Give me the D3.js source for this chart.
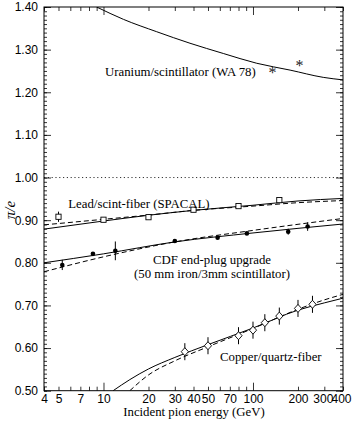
<!DOCTYPE html>
<html>
<head>
<meta charset="utf-8">
<script src="https://cdn.jsdelivr.net/npm/d3@7"></script>
<style>
  body { margin: 0; background: #fff; }
  svg { display: block; font-family: "Liberation Serif", "DejaVu Serif", serif; }
  .tick text { font-size: 12px; fill: #000; }
  .tick line { stroke: #000; stroke-width: 0.8; }
  .fit { fill: none; stroke: #000; stroke-width: 1; }
  .dash { stroke-dasharray: 5,3; }
</style>
</head>
<body>
<svg width="352" height="421"></svg>
<script>
// values, energy in GeV / pi-over-e ratio
const xTickLabels = [4, 5, 7, 10, 20, 30, 40, 50, 70, 100, 200, 300, 400];
const xMinorTicks = [4, 5, 6, 7, 8, 9, 20, 30, 40, 50, 60, 70, 80, 90, 200, 300, 400];
const xMajorTicks = [10, 100];
const yTickLabels = [0.50, 0.60, 0.70, 0.80, 0.90, 1.00, 1.10, 1.20, 1.30, 1.40];

const uraniumFit = [[9, 1.400], [13.6, 1.371], [22.7, 1.342], [37.9, 1.315], [63.3, 1.291], [106, 1.268], [177, 1.252], [295, 1.235], [400, 1.229]];
const uraniumPoints = [[135, 1.251], [205, 1.266]];

const spacalPoints = [[5, 0.908, 0.012], [10, 0.901, 0], [20, 0.907, 0], [40, 0.9245, 0], [80, 0.933, 0], [150, 0.947, 0]];
const spacalFitSolid = [[4, 0.879], [10, 0.898], [20, 0.9115], [40, 0.923], [100, 0.935], [200, 0.945], [400, 0.951]];
const spacalFitDashed = [[4, 0.889], [10, 0.902], [20, 0.912], [40, 0.923], [100, 0.933], [200, 0.941], [400, 0.946]];

const cdfPoints = [[5.3, 0.795, 0.012], [8.5, 0.821, 0], [12, 0.828, 0.022], [30, 0.851, 0], [58, 0.859, 0], [91, 0.869, 0], [172, 0.873, 0.007], [232, 0.885, 0.01]];
const cdfFitSolid = [[4, 0.800], [10, 0.821], [30, 0.849], [100, 0.870], [400, 0.891]];
const cdfFitDashed = [[4, 0.779], [10, 0.814], [30, 0.849], [100, 0.876], [400, 0.904]];

const copperPoints = [[35, 0.5915], [50, 0.6055], [80, 0.629], [100, 0.642], [120, 0.6595], [150, 0.675], [200, 0.693], [250, 0.7026]];
const copperErr = 0.02;
const copperFitSolid = [[11.6, 0.500], [15, 0.526], [20, 0.551], [30, 0.578], [50, 0.608], [100, 0.647], [200, 0.689], [300, 0.706], [400, 0.717]];
const copperFitDashed = [[15, 0.500], [20, 0.537], [30, 0.570], [50, 0.603], [100, 0.646], [200, 0.691], [300, 0.713], [400, 0.726]];

const svg = d3.select("svg");
const margin = { top: 7, right: 9, bottom: 30.3, left: 44 };
const width = 352 - margin.left - margin.right;
const height = 421 - margin.top - margin.bottom;
const g = svg.append("g").attr("transform", `translate(${margin.left},${margin.top})`);

const x = d3.scaleLog().domain([4, 400]).range([0, width]);
const y = d3.scaleLinear().domain([0.5, 1.4]).range([height, 0]);

const yMinor = d3.range(50, 141).map(d => d / 100);

// axes, ticks pointing inward
g.append("g").attr("transform", `translate(0,${height})`)
    .call(d3.axisBottom(x).tickValues(xMinorTicks).tickSize(-4).tickFormat(""))
    .call(a => a.select(".domain").remove());
g.append("g").attr("transform", `translate(0,${height})`)
    .call(d3.axisBottom(x).tickValues(xMajorTicks).tickSize(-8).tickFormat(""))
    .call(a => a.select(".domain").remove());
g.append("g").attr("transform", `translate(0,${height})`)
    .call(d3.axisBottom(x).tickValues(xTickLabels).tickSize(0).tickPadding(4).tickFormat(d3.format("d")))
    .call(a => a.select(".domain").remove())
    .call(a => a.selectAll(".tick text").filter(d => d === 300).attr("dx", -1.5))
    .call(a => a.selectAll(".tick text").filter(d => d === 400).attr("dx", -2));

g.append("g")
    .call(d3.axisTop(x).tickValues(xMinorTicks).tickSize(-4).tickFormat(""))
    .call(a => a.select(".domain").remove());
g.append("g")
    .call(d3.axisTop(x).tickValues(xMajorTicks).tickSize(-8).tickFormat(""))
    .call(a => a.select(".domain").remove());

g.append("g")
    .call(d3.axisLeft(y).tickValues(yMinor).tickSize(-3).tickFormat(""))
    .call(a => a.select(".domain").remove());
g.append("g")
    .call(d3.axisLeft(y).tickValues(yTickLabels).tickSize(-7).tickPadding(6).tickFormat(d3.format(".2f")))
    .call(a => a.select(".domain").remove());

g.append("g").attr("transform", `translate(${width},0)`)
    .call(d3.axisRight(y).tickValues(yMinor).tickSize(-3).tickFormat(""))
    .call(a => a.select(".domain").remove());
g.append("g").attr("transform", `translate(${width},0)`)
    .call(d3.axisRight(y).tickValues(yTickLabels).tickSize(-7).tickFormat(""))
    .call(a => a.select(".domain").remove());

g.selectAll(".tick line").attr("stroke", "#000");

// frame
g.append("rect")
    .attr("width", width).attr("height", height)
    .attr("fill", "none").attr("stroke", "#000").attr("stroke-width", 1);

// pi/e = 1 reference
g.append("line")
    .attr("x1", 0).attr("x2", width)
    .attr("y1", y(1)).attr("y2", y(1))
    .attr("stroke", "#000").attr("stroke-width", 0.8)
    .attr("stroke-dasharray", "1.2,2.6");

const plot = g.append("g");
plot.append("clipPath").attr("id", "clip")
    .append("rect").attr("width", width).attr("height", height);

const line = d3.line()
    .x(d => x(d[0]))
    .y(d => y(d[1]))
    .curve(d3.curveMonotoneX);

const fits = [
    [uraniumFit, false],
    [spacalFitSolid, false], [spacalFitDashed, true],
    [cdfFitSolid, false], [cdfFitDashed, true],
    [copperFitSolid, false], [copperFitDashed, true]
];
plot.selectAll(".fit")
    .data(fits)
    .join("path")
    .attr("class", d => d[1] ? "fit dash" : "fit")
    .attr("clip-path", "url(#clip)")
    .attr("d", d => line(d[0]));

// error bars
function errorBars(data, errOf) {
    plot.append("g").selectAll("line")
        .data(data.filter(d => errOf(d) > 0))
        .join("line")
        .attr("x1", d => x(d[0])).attr("x2", d => x(d[0]))
        .attr("y1", d => y(d[1] - errOf(d))).attr("y2", d => y(d[1] + errOf(d)))
        .attr("stroke", "#000").attr("stroke-width", 1);
}
errorBars(spacalPoints, d => d[2]);
errorBars(cdfPoints, d => d[2]);
errorBars(copperPoints, () => copperErr);

// markers
plot.append("g").selectAll("rect")
    .data(spacalPoints)
    .join("rect")
    .attr("x", d => x(d[0]) - 2.6).attr("y", d => y(d[1]) - 2.6)
    .attr("width", 5.2).attr("height", 5.2)
    .attr("fill", "#fff").attr("stroke", "#000").attr("stroke-width", 0.9);

plot.append("g").selectAll("circle")
    .data(cdfPoints)
    .join("circle")
    .attr("cx", d => x(d[0])).attr("cy", d => y(d[1]))
    .attr("r", 2.3).attr("fill", "#000");

plot.append("g").selectAll("path")
    .data(copperPoints)
    .join("path")
    .attr("transform", d => `translate(${x(d[0])},${y(d[1])})`)
    .attr("d", "M0,-4L3.6,0L0,4L-3.6,0Z")
    .attr("fill", "#fff").attr("stroke", "#000").attr("stroke-width", 0.9);

plot.append("g").selectAll("text")
    .data(uraniumPoints)
    .join("text")
    .attr("x", d => x(d[0])).attr("y", d => y(d[1]) + 7)
    .attr("text-anchor", "middle")
    .attr("font-size", 16)
    .attr("fill", "#222")
    .text("*");

// curve labels
const labels = [
    { text: "Uranium/scintillator (WA 78)", x: 105, y: 76 },
    { text: "Lead/scint-fiber (SPACAL)", x: 68.3, y: 208 },
    { text: "Copper/quartz-fiber", x: 220, y: 361 }
];
svg.selectAll(".lbl")
    .data(labels)
    .join("text")
    .attr("class", "lbl")
    .attr("x", d => d.x).attr("y", d => d.y)
    .attr("font-size", 12.8)
    .text(d => d.text);

const cdfLabel = svg.append("text")
    .attr("text-anchor", "middle")
    .attr("font-size", 12.8);
cdfLabel.append("tspan").attr("x", 212).attr("y", 264).text("CDF end-plug upgrade");
cdfLabel.append("tspan").attr("x", 212).attr("y", 278).text("(50 mm iron/3mm scintillator)");

// axis titles
svg.append("text")
    .attr("x", 194).attr("y", 416)
    .attr("text-anchor", "middle")
    .attr("font-size", 12.8)
    .text("Incident pion energy (GeV)");

svg.append("text")
    .attr("transform", "translate(15,210) rotate(-90)")
    .attr("text-anchor", "middle")
    .attr("font-size", 15)
    .attr("font-style", "italic")
    .text("π/e");
</script>
</body>
</html>
